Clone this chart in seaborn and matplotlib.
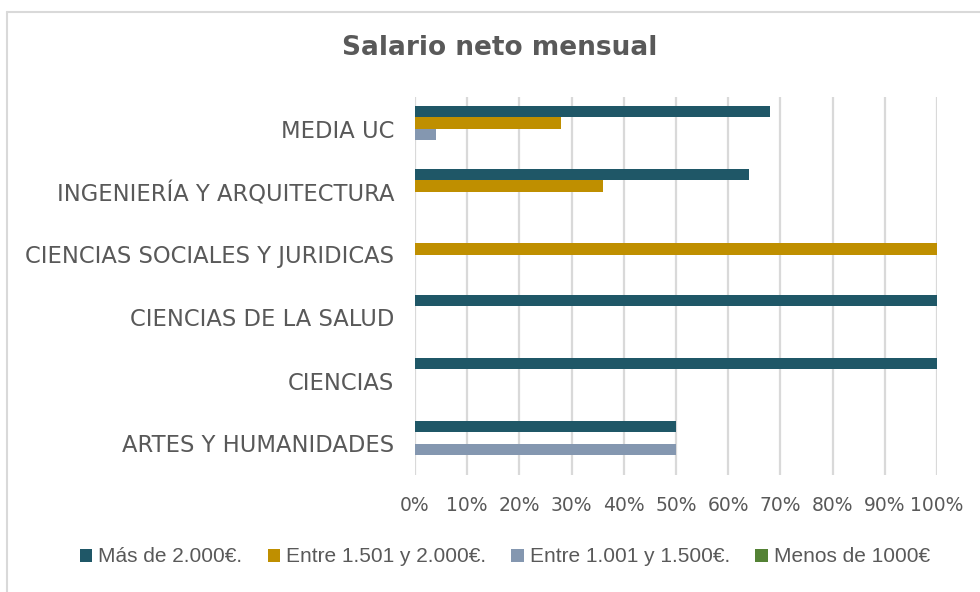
import matplotlib
matplotlib.use("Agg")
import matplotlib.pyplot as plt
import seaborn as sns
import pandas as pd
from matplotlib.ticker import PercentFormatter

categories = [
    "MEDIA UC",
    "INGENIERÍA Y ARQUITECTURA",
    "CIENCIAS SOCIALES Y JURIDICAS",
    "CIENCIAS DE LA SALUD",
    "CIENCIAS",
    "ARTES Y HUMANIDADES",
]
series = [
    "Más de 2.000€.",
    "Entre 1.501 y 2.000€.",
    "Entre 1.001 y 1.500€.",
    "Menos de 1000€",
]
mas_2000 = [68, 64, 0, 100, 100, 50]
entre_1501_2000 = [28, 36, 100, 0, 0, 0]
entre_1001_1500 = [4, 0, 0, 0, 0, 50]
menos_1000 = [0, 0, 0, 0, 0, 0]
xticks = [0, 10, 20, 30, 40, 50, 60, 70, 80, 90, 100]

colors = ["#1F5767", "#BF8F00", "#8497B0", "#548235"]
text_color = "#595959"
grid_color = "#D9D9D9"

rows = []
for name, vals in zip(series, [mas_2000, entre_1501_2000, entre_1001_1500, menos_1000]):
    for cat, v in zip(categories, vals):
        rows.append({"Área": cat, "Salario": name, "Porcentaje": v})
df = pd.DataFrame(rows)

sns.set_theme(style="white")
plt.rcParams["font.family"] = ["DejaVu Sans"]

fig = plt.figure(figsize=(9.8, 5.92), dpi=100)
ax = fig.add_axes([415 / 980, 1 - 475 / 592, (937 - 415) / 980, (475 - 97) / 592])

sns.barplot(
    data=df, y="Área", x="Porcentaje", hue="Salario",
    order=categories, hue_order=series, palette=colors,
    orient="h", width=0.7, ax=ax, saturation=1, legend=True,
    linewidth=0, edgecolor="none",
)

ax.set_xlim(0, 100)
ax.set_xticks(xticks)
ax.xaxis.set_major_formatter(PercentFormatter(decimals=0))
ax.grid(axis="x", color=grid_color, linewidth=1.6)
ax.set_axisbelow(True)
for s in ax.spines.values():
    s.set_visible(False)
ax.set_xlabel("")
ax.set_ylabel("")
ax.tick_params(axis="x", length=0, pad=15, labelsize=13.5, labelcolor=text_color)
ax.tick_params(axis="y", length=0, pad=15, labelsize=16.3, labelcolor=text_color)

handles, labels = ax.get_legend_handles_labels()
ax.get_legend().remove()
fig.legend(
    handles, labels, loc="center", bbox_to_anchor=(505 / 980, 1 - 557 / 592),
    ncol=4, frameon=False, handlelength=0.6, handleheight=0.6,
    handletextpad=0.3, columnspacing=1.2,
    prop={"family": "Liberation Sans", "size": 15}, labelcolor=text_color,
)

fig.text(500 / 980, 1 - 48 / 592, "Salario neto mensual", ha="center", va="center",
         fontsize=19, fontweight="bold", color=text_color)

# light frame around the chart area
fig.add_artist(plt.Line2D([6.5 / 980, 6.5 / 980], [0, 1 - 11.5 / 592],
                          transform=fig.transFigure, color=grid_color, linewidth=1.5))
fig.add_artist(plt.Line2D([6.5 / 980, 1], [1 - 11.5 / 592, 1 - 11.5 / 592],
                          transform=fig.transFigure, color=grid_color, linewidth=1.5))

fig.savefig("out.png", dpi=100, facecolor="white")
